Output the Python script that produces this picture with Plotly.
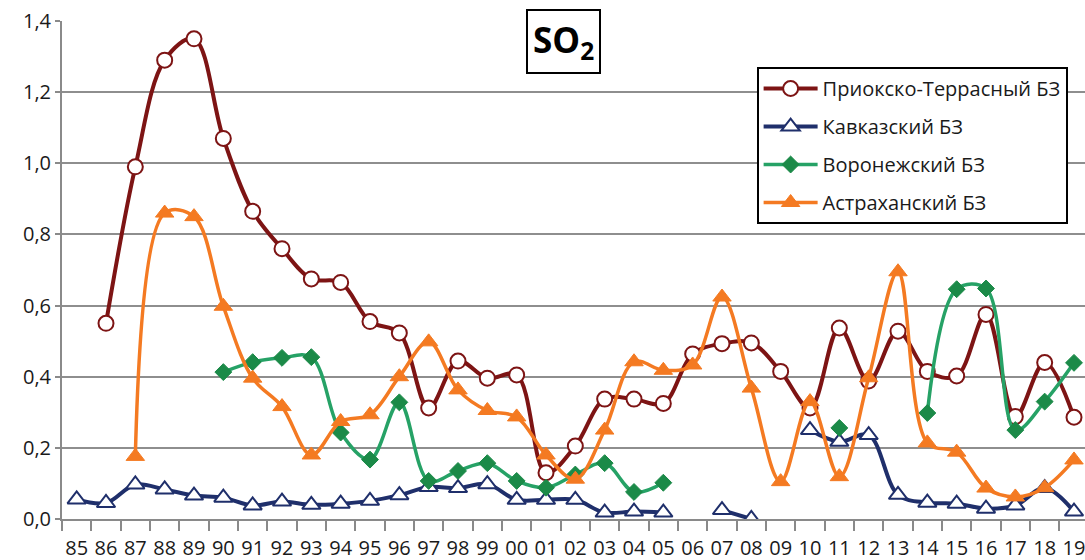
import plotly.graph_objects as go

years = ["85","86","87","88","89","90","91","92","93","94","95","96","97","98","99",
         "00","01","02","03","04","05","06","07","08","09","10","11","12","13","14",
         "15","16","17","18","19"]

prioksko = [None, 0.55, 0.99, 1.29, 1.35, 1.07, 0.865, 0.76, 0.675, 0.665, 0.555, 0.523,
            0.312, 0.444, 0.396, 0.405, 0.13, 0.205, 0.337, 0.337, 0.325, 0.464, 0.493,
            0.495, 0.415, 0.312, 0.537, 0.388, 0.528, 0.415, 0.402, 0.575, 0.288, 0.44, 0.286]

kavkaz = [0.055, 0.045, 0.097, 0.083, 0.066, 0.06, 0.038, 0.049, 0.04, 0.043, 0.051, 0.067,
          0.09, 0.087, 0.098, 0.054, 0.054, 0.054, 0.018, 0.021, 0.018, None, 0.025,
          0.0, None, 0.25, 0.217, 0.236, 0.068, 0.046, 0.043, 0.029, 0.038, 0.087, 0.021]

voronezh = [None, None, None, None, None, 0.413, 0.441, 0.453, 0.455, 0.243, 0.167, 0.328,
            0.107, 0.135, 0.157, 0.107, 0.088, 0.125, 0.157, 0.076, 0.102, None, None,
            None, None, None, 0.256, None, None, 0.298, 0.646, 0.648, 0.25, 0.33, 0.439]

astrakhan = [None, None, 0.176, 0.86, 0.85, 0.598, 0.396, 0.316, 0.18, 0.274, 0.293, 0.4,
             0.498, 0.363, 0.305, 0.287, 0.18, 0.112, 0.25, 0.442, 0.418, 0.433, 0.624,
             0.368, 0.105, 0.33, 0.119, 0.397, 0.695, 0.214, 0.188, 0.087, 0.062, 0.088, 0.166]

names = ["Приокско-Террасный БЗ", "Кавказский БЗ", "Воронежский БЗ", "Астраханский БЗ"]

FONT = "Open Sans"
fig = go.Figure()

fig.add_trace(go.Scatter(
    x=years, y=prioksko, name=names[0], mode="lines+markers", legendgroup="a",
    line=dict(color="#7d1414", width=4, shape="spline", smoothing=1.0),
    marker=dict(symbol="circle", size=15, color="white", line=dict(color="#7d1414", width=2)),
    connectgaps=False))
fig.add_trace(go.Scatter(
    x=years, y=kavkaz, name=names[1], mode="lines+markers", legendgroup="b",
    line=dict(color="#1f2f6b", width=4, shape="spline", smoothing=1.0),
    marker=dict(symbol="triangle-up", size=16, color="white", line=dict(color="#1f2f6b", width=2)),
    connectgaps=False))
fig.add_trace(go.Scatter(
    x=years, y=voronezh, name=names[2], mode="lines+markers", legendgroup="c",
    line=dict(color="#26a266", width=3.5, shape="spline", smoothing=1.0),
    marker=dict(symbol="diamond", size=13, color="#1b8a48", line=dict(color="#1b8a48", width=1)),
    connectgaps=False))
fig.add_trace(go.Scatter(
    x=years, y=astrakhan, name=names[3], mode="lines+markers", legendgroup="d",
    line=dict(color="#f47a22", width=3.5, shape="spline", smoothing=1.0),
    marker=dict(symbol="triangle-up", size=16, color="#f47a22", line=dict(color="#f47a22", width=1)),
    connectgaps=False))

fig.update_layout(
    width=1085, height=560,
    margin=dict(l=62, r=0, t=21, b=41),
    paper_bgcolor="white", plot_bgcolor="white",
    separators=", ",
    font=dict(family=FONT, color="#1a1a1a"),
    showlegend=True,
    legend=dict(x=0.679, y=0.9076, xanchor="left", yanchor="top",
                bgcolor="white", bordercolor="black", borderwidth=2,
                font=dict(family=FONT, size=20, color="#1a1a1a"),
                tracegroupgap=9, itemwidth=54),
    xaxis=dict(type="category", categoryorder="array", categoryarray=years,
               range=[-0.5, 34.375], showgrid=False, tickson="boundaries",
               ticks="outside", ticklen=10, tickwidth=2, tickcolor="#8a8a8a",
               showline=True, linecolor="#8a8a8a", linewidth=2, ticklabelstandoff=10,
               tickfont=dict(family=FONT, size=20, color="#1a1a1a"), tickangle=0),
    yaxis=dict(range=[0, 1.4], dtick=0.2, tickformat=".1f", showgrid=True,
               gridcolor="#8e8e8e", gridwidth=2, zeroline=False,
               showline=True, linecolor="#8a8a8a", linewidth=2,
               ticks="outside", ticklen=5, tickwidth=2, tickcolor="#8a8a8a",
               tickfont=dict(family=FONT, size=20, color="#1a1a1a")),
    annotations=[dict(text="<b>SO<sub>2</sub></b>", xref="paper", yref="paper",
                      x=0.4907, y=0.958, xanchor="center", yanchor="middle",
                      showarrow=False, font=dict(family=FONT, size=35, color="black"),
                      bgcolor="white", bordercolor="black", borderwidth=2, borderpad=5)],
)

fig.write_html("out.html", config={"displayModeBar": False},
               post_script="document.body.style.margin='0';")
